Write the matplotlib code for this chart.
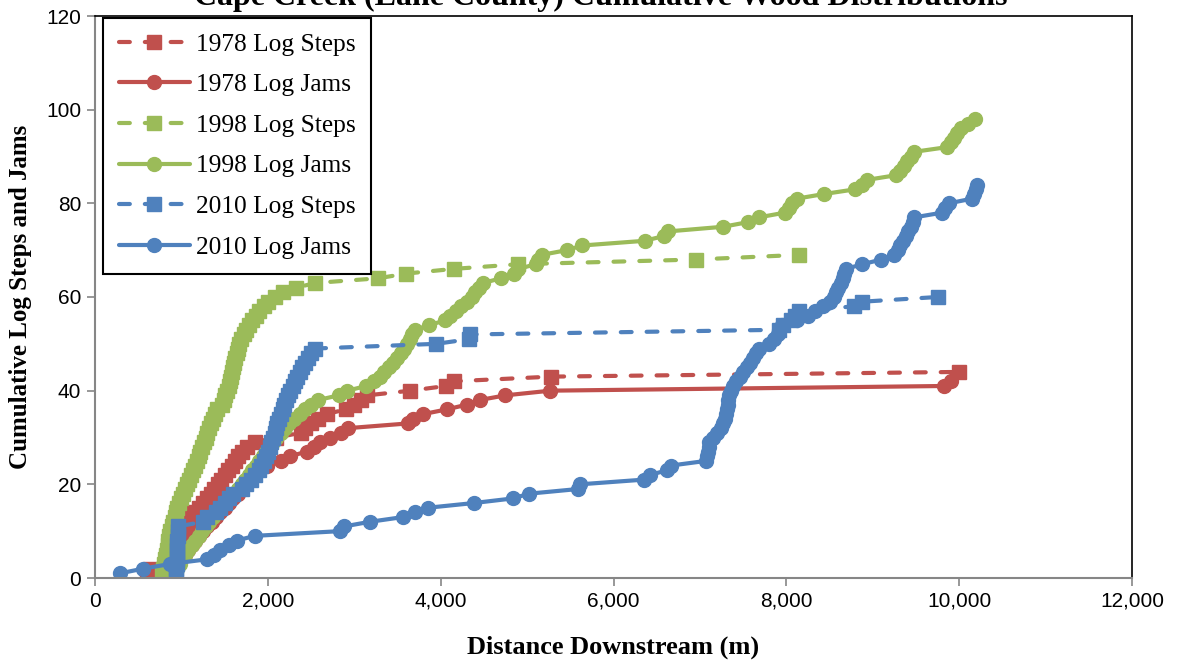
import numpy as np
import matplotlib
matplotlib.use("Agg")
import matplotlib.pyplot as plt
from matplotlib.ticker import FuncFormatter, MultipleLocator

# distance downstream (m) of each logged feature, in survey order;
# the cumulative count is the running number of features
steps_1978 = [600, 640, 900, 920, 940, 960, 980, 1000, 1020, 1040, 1060, 1080, 1100,
              1150, 1200, 1250, 1300, 1340, 1380, 1420, 1460, 1500, 1540, 1580, 1620,
              1660, 1700, 1760, 1850, 2100, 2380, 2430, 2500, 2580, 2680, 2900, 3000,
              3080, 3150, 3650, 4060, 4150, 5280, 10000]
jams_1978 = [850, 900, 950, 1000, 1040, 1080, 1120, 1160, 1200, 1250, 1300, 1350, 1400,
             1450, 1500, 1550, 1600, 1650, 1700, 1750, 1800, 1850, 1900, 1990, 2150, 2260,
             2450, 2540, 2600, 2720, 2850, 2930, 3620, 3680, 3800, 4070, 4300, 4450, 4750,
             5270, 9830, 9900]
steps_1998 = [780, 790, 800, 810, 820, 830, 840, 850, 860, 870, 890, 900, 920, 935, 950,
              975, 1000, 1020, 1045, 1065, 1090, 1110, 1135, 1160, 1180, 1200, 1220, 1240,
              1260, 1280, 1295, 1320, 1340, 1360, 1385, 1410, 1470, 1490, 1510, 1530, 1545,
              1560, 1575, 1590, 1600, 1610, 1625, 1640, 1655, 1670, 1690, 1720, 1750, 1780,
              1820, 1860, 1900, 1950, 2000, 2080, 2180, 2330, 2550, 3280, 3600, 4150, 4900,
              6950, 8150]
jams_1998 = [900, 950, 980, 1000, 1040, 1080, 1120, 1160, 1200, 1240, 1280, 1320, 1360,
             1400, 1440, 1500, 1550, 1600, 1650, 1700, 1740, 1780, 1820, 1860, 1900, 1940,
             1980, 2020, 2060, 2100, 2150, 2200, 2250, 2300, 2370, 2430, 2500, 2580, 2820,
             2920, 3140, 3230, 3300, 3350, 3400, 3450, 3500, 3540, 3580, 3610, 3640, 3670,
             3700, 3870, 4050, 4110, 4180, 4230, 4300, 4360, 4400, 4440, 4490, 4700, 4850,
             4900, 5100, 5130, 5170, 5460, 5640, 6360, 6580, 6630, 7270, 7560, 7680, 7980,
             8030, 8070, 8120, 8440, 8800, 8870, 8930, 9270, 9320, 9360, 9400, 9440, 9480,
             9860, 9900, 9940, 9980, 10020, 10100, 10180]
steps_2010 = [940, 942, 944, 946, 948, 950, 952, 954, 956, 958, 960, 1250, 1300, 1400,
              1450, 1500, 1550, 1600, 1700, 1750, 1800, 1850, 1900, 1920, 1950, 1980, 2000,
              2020, 2040, 2060, 2080, 2100, 2110, 2130, 2150, 2170, 2190, 2210, 2230, 2260,
              2290, 2320, 2340, 2370, 2400, 2430, 2460, 2500, 2550, 3950, 4330, 4340, 7920,
              7960, 8050, 8100, 8150, 8780, 8880, 9750]
jams_2010 = [290, 560, 870, 1300, 1380, 1450, 1550, 1640, 1850, 2830, 2880, 3180, 3560,
             3700, 3850, 4380, 4840, 5020, 5590, 5610, 6350, 6420, 6620, 6660, 7070, 7080,
             7090, 7100, 7110, 7150, 7200, 7240, 7270, 7290, 7300, 7310, 7320, 7330, 7340,
             7360, 7380, 7420, 7460, 7500, 7540, 7580, 7620, 7650, 7680, 7800, 7860, 7900,
             7920, 7950, 8120, 8250, 8330, 8420, 8500, 8550, 8580, 8600, 8630, 8650, 8670,
             8690, 8880, 9100, 9250, 9290, 9320, 9350, 9380, 9410, 9440, 9460, 9480, 9800,
             9840, 9880, 10150, 10170, 10190, 10210]

series = [
    ("1978 Log Steps", steps_1978, "#C0504D", "s", "--"),
    ("1978 Log Jams", jams_1978, "#C0504D", "o", "-"),
    ("1998 Log Steps", steps_1998, "#9BBB59", "s", "--"),
    ("1998 Log Jams", jams_1998, "#9BBB59", "o", "-"),
    ("2010 Log Steps", steps_2010, "#4F81BD", "s", "--"),
    ("2010 Log Jams", jams_2010, "#4F81BD", "o", "-"),
]

fig = plt.figure(figsize=(11.77, 6.62), dpi=100)
ax = fig.add_axes([95 / 1177, 84 / 662, 1037 / 1177, 562 / 662])

for label, dist, color, marker, ls in series:
    count = np.arange(1, len(dist) + 1)
    line, = ax.plot(dist, count, color=color, marker=marker, markersize=10,
                    markeredgecolor=color, linewidth=3, linestyle=ls, label=label,
                    solid_capstyle="round", dash_capstyle="round")
    if ls == "--":
        line.set_dashes((2.6, 3.6))

ax.set_xlim(0, 12000)
ax.set_ylim(0, 120)
ax.xaxis.set_major_locator(MultipleLocator(2000))
ax.yaxis.set_major_locator(MultipleLocator(20))
ax.xaxis.set_major_formatter(FuncFormatter(lambda v, p: f"{int(v):,}"))

for side in ["left", "bottom"]:
    ax.spines[side].set_color("#868686")
    ax.spines[side].set_linewidth(1.5)
for side in ["top", "right"]:
    ax.spines[side].set_color("black")
    ax.spines[side].set_linewidth(1.2)

ax.tick_params(axis="both", direction="out", length=6, width=1.2, color="#868686",
               labelsize=15, pad=4)
for lbl in ax.get_xticklabels() + ax.get_yticklabels():
    lbl.set_fontfamily("Liberation Sans")

ax.set_xlabel("Distance Downstream (m)", fontsize=19, fontweight="bold",
              fontfamily="Liberation Serif")
ax.set_ylabel("Cumulative Log Steps and Jams", fontsize=18, fontweight="bold",
              fontfamily="Liberation Serif")
ax.xaxis.set_label_coords(0.4995, -0.103)
ax.yaxis.set_label_coords(-0.061, 0.5)

fig.text(0.51, 1 - 4.5 / 662, "Cape Creek (Lane County) Cumulative Wood Distributions",
         ha="center", va="baseline", fontsize=23, fontweight="bold",
         fontfamily="Liberation Serif")

leg = ax.legend(loc="upper left", bbox_to_anchor=(0.008, 0.997), borderaxespad=0,
                fancybox=False, framealpha=1, edgecolor="black", handlelength=2.8,
                labelspacing=0.7, handletextpad=0.25, borderpad=0.6,
                prop={"family": "Liberation Serif", "size": 18.3})
leg.get_frame().set_linewidth(1.5)

fig.savefig("out.png", dpi=100)
